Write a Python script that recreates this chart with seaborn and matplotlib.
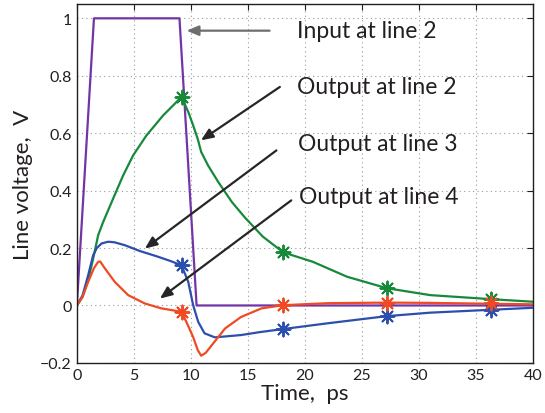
import matplotlib
matplotlib.use("Agg")
import matplotlib.pyplot as plt
import seaborn as sns
import pandas as pd

# ── Data ──────────────────────────────────────────────────────────────────────
t_in = [0, 1.5, 9.0, 10.5, 40]
v_in = [0, 1, 1, 0, 0]

t_l2 = [0, 0.5, 1.0, 1.43, 1.87, 2.3, 3.18, 4.06, 4.94, 6.1, 7.57, 8.75, 9.18,
        9.77, 10.2, 10.6, 10.9, 11.5, 12.4, 13.6, 14.7, 16.3, 18.1, 20.7, 23.7,
        27.2, 31, 36.3, 40]
v_l2 = [0, 0.03, 0.09, 0.163, 0.245, 0.29, 0.372, 0.453, 0.523, 0.592, 0.662,
        0.709, 0.726, 0.674, 0.627, 0.58, 0.535, 0.488, 0.43, 0.36, 0.308, 0.24,
        0.185, 0.152, 0.10, 0.06, 0.036, 0.022, 0.013]

t_l3 = [0, 0.5, 0.99, 1.43, 1.75, 2.17, 2.75, 3.3, 4.2, 5.5, 7.1, 8.2, 9.18,
        9.77, 10.2, 10.64, 11.2, 12.1, 14.4, 16.0, 18.1, 22, 27.2, 31, 36.3, 40]
v_l3 = [0, 0.035, 0.105, 0.175, 0.2, 0.216, 0.222, 0.22, 0.21, 0.19, 0.17,
        0.155, 0.14, 0.082, 0.001, -0.057, -0.097, -0.111, -0.103, -0.093,
        -0.082, -0.062, -0.037, -0.025, -0.015, -0.008]

t_l4 = [0, 0.5, 0.99, 1.5, 1.87, 2.05, 2.46, 3.33, 4.5, 5.96, 7.4, 9.18, 9.6,
        10.2, 10.6, 10.9, 11.3, 11.8, 12.4, 13.0, 14.4, 16.2, 18.1, 22, 27.2,
        31, 36.3, 40]
v_l4 = [0, 0.03, 0.082, 0.13, 0.152, 0.153, 0.129, 0.082, 0.036, 0.007, -0.01,
        -0.022, -0.057, -0.11, -0.155, -0.175, -0.165, -0.14, -0.11, -0.08,
        -0.04, -0.01, 0.001, 0.008, 0.01, 0.009, 0.006, 0.004]

mark_t = [9.18, 18.1, 27.2, 36.3]
mark_l2 = [0.726, 0.185, 0.06, 0.022]
mark_l3 = [0.14, -0.082, -0.036, -0.016]
mark_l4 = [-0.022, 0.001, 0.01, 0.007]

labels = ["Input at line 2", "Output at line 2", "Output at line 3", "Output at line 4"]
label_xy = [(19.3, 0.957), (19.3, 0.762), (19.4, 0.563), (19.5, 0.379)]
arrow_tail = [(16.9, 0.957), (17.8, 0.761), (17.5, 0.54), (18.8, 0.366)]
arrow_head = [(9.62, 0.957), (10.88, 0.575), (5.96, 0.198), (7.28, 0.024)]
arrow_col = ["#6e6e6e", "#262626", "#262626", "#262626"]

x_ticks = [0, 5, 10, 15, 20, 25, 30, 35, 40]
y_ticks = [-0.2, 0, 0.2, 0.4, 0.6, 0.8, 1]
y_ticklabels = ["\u22120.2", "0", "0.2", "0.4", "0.6", "0.8", "1"]

c_in, c_l2, c_l3, c_l4 = "#7234a6", "#17893a", "#2c4fae", "#f04a24"

# ── Style ─────────────────────────────────────────────────────────────────────
sns.set_style("white")
plt.rcParams["font.family"] = ["Lato", "DejaVu Sans"]

fig = plt.figure(figsize=(5.45, 4.14), dpi=100)
ax = fig.add_axes([0.141, 0.121, 0.837, 0.867])

# ── Curves ────────────────────────────────────────────────────────────────────
for t, v, c in [(t_in, v_in, c_in), (t_l2, v_l2, c_l2),
                (t_l3, v_l3, c_l3), (t_l4, v_l4, c_l4)]:
    sns.lineplot(x=t, y=v, color=c, lw=1.6, sort=False, estimator=None, ax=ax)

for v, c in [(mark_l2, c_l2), (mark_l3, c_l3), (mark_l4, c_l4)]:
    sns.scatterplot(x=mark_t, y=v, color=c, marker=(8, 2, 0), s=100,
                    linewidth=1.4, ax=ax, zorder=5)

# ── Annotations ───────────────────────────────────────────────────────────────
for lab, xy in zip(labels, label_xy):
    ax.text(xy[0], xy[1], lab, fontsize=16.5, color="#231f20",
            ha="left", va="center")
for tail, head, c in zip(arrow_tail, arrow_head, arrow_col):
    ax.annotate("", xy=head, xytext=tail,
                arrowprops=dict(arrowstyle="-|>,head_length=0.6,head_width=0.25",
                                mutation_scale=12, lw=1.6, color=c,
                                shrinkA=0, shrinkB=0))

# ── Axes ──────────────────────────────────────────────────────────────────────
ax.set_xlim(0, 40)
ax.set_ylim(-0.2, 1.05)
ax.set_xticks(x_ticks)
ax.set_yticks(y_ticks)
ax.set_yticklabels(y_ticklabels)
ax.tick_params(direction="in", length=4, width=0.8, labelsize=11.5,
               top=True, right=True, colors="#231f20")
ax.grid(True, color="#9a9a9a", lw=0.8, ls=(0, (1, 3)))
for s in ax.spines.values():
    s.set_color("#231f20")
    s.set_linewidth(1.0)
ax.set_xlabel("Time,  ps", fontsize=16, color="#231f20", labelpad=1)
ax.set_ylabel("Line voltage,  V", fontsize=16, color="#231f20", labelpad=5)

plt.savefig("out.png", dpi=100)
